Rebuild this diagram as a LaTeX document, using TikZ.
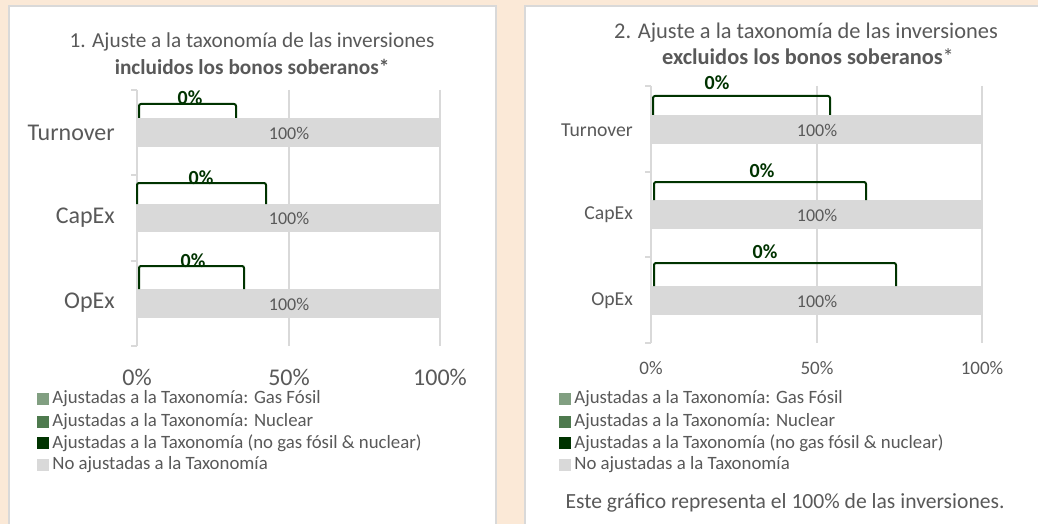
\documentclass[tikz,border=0pt]{standalone}
\usepackage{fontspec}
\setmainfont{Carlito}
\usetikzlibrary{positioning}
\definecolor{bgbeige}{HTML}{FBE9D7}
\definecolor{txtgray}{HTML}{595959}
\definecolor{gridgray}{HTML}{D9D9D9}
\definecolor{gasgreen}{HTML}{819F81}
\definecolor{nucgreen}{HTML}{4E7A4E}
\definecolor{taxgreen}{HTML}{003300}
\newcommand{\fsz}[1]{\fontsize{#1}{#1}\selectfont}

\begin{document}
\begin{tikzpicture}[x=1pt, y=-1pt,
  panel/.style={fill=white, draw=gridgray, line width=2pt},
  grid/.style={gridgray, line width=1.5pt},
  bar/.style={fill=gridgray, draw=none},
  brk/.style={taxgreen, line width=2pt, rounded corners=2pt},
  pct/.style={taxgreen, font=\fsz{20}\bfseries, anchor=base, inner sep=0pt},
  cat/.style={txtgray, anchor=east, inner sep=0pt},
  tick/.style={txtgray, inner sep=0pt},
  barlbl/.style={txtgray, font=\fsz{18}, inner sep=0pt},
  ttl/.style={txtgray, inner sep=0pt},
  leg/.style={txtgray, font=\fsz{18.8}, anchor=west, inner sep=0pt},
  sq/.style={minimum size=12pt, inner sep=0pt}]
  \fill[bgbeige] (0,0) rectangle (1038,524);
  \useasboundingbox (0,0) rectangle (1038,524);

  % panels
  \draw[panel] (9,6) rectangle (496,530);
  \draw[panel] (525,6) rectangle (1045,530);

  % left chart
  \node[ttl, font=\fsz{21.3}] (t1a) at (252,42) {1. Ajuste a la taxonomía de las inversiones};
  \node[ttl, font=\fsz{21.3}\bfseries] (t1b) at (252,67) {incluidos los bonos soberanos*};

  \draw[grid] (289,90) -- (289,346);
  \draw[grid] (440,90) -- (440,346);
  \draw[grid] (137,90) -- (137,346);
  \foreach \y in {90,175,261,346} \draw[grid] (131,\y) -- (137,\y);

  \fill[bar] (137,118) rectangle (440,147);
  \fill[bar] (137,204) rectangle (440,232);
  \fill[bar] (137,289) rectangle (440,318);
  \node[barlbl] (l1t) at (289,133) {100\%};
  \node[barlbl] (l1c) at (289,218) {100\%};
  \node[barlbl] (l1o) at (289,304) {100\%};

  \node[cat, font=\fsz{24}] (c1t) at (115,133) {Turnover};
  \node[cat, font=\fsz{24}] (c1c) at (115,218) {CapEx};
  \node[cat, font=\fsz{24}] (c1o) at (115,303) {OpEx};

  \draw[brk] (139,118) -- (139,104) -- (236,104) -- (236,118);
  \draw[brk] (137,204) -- (137,183) -- (266,183) -- (266,204);
  \draw[brk] (139,289) -- (139,266) -- (244,266) -- (244,289);
  \node[pct] (p1t) at (190,105) {0\%};
  \node[pct] (p1c) at (201,184) {0\%};
  \node[pct] (p1o) at (193,267) {0\%};

  \node[tick, font=\fsz{24}] (x1a) at (137,377) {0\%};
  \node[tick, font=\fsz{24}] (x1b) at (289,377) {50\%};
  \node[tick, font=\fsz{24}] (x1c) at (440,377) {100\%};

  \node[sq, fill=gasgreen] (s1a) at (43,399) {};
  \node[sq, fill=nucgreen] (s1b) at (43,422) {};
  \node[sq, fill=taxgreen] (s1c) at (43,443) {};
  \node[sq, fill=gridgray] (s1d) at (43,465) {};
  \node[leg, right=3pt of s1a] {Ajustadas a la Taxonomía: Gas Fósil};
  \node[leg, right=3pt of s1b] {Ajustadas a la Taxonomía: Nuclear};
  \node[leg, right=3pt of s1c] {Ajustadas a la Taxonomía (no gas fósil \& nuclear)};
  \node[leg, right=3pt of s1d] {No ajustadas a la Taxonomía};

  % right chart
  \node[ttl, font=\fsz{22.4}] (t2a) at (806,33) {2. Ajuste a la taxonomía de las inversiones};
  \node[ttl, font=\fsz{22.4}] (t2b) at (808,57) {\textbf{excluidos los bonos soberanos}*};

  \draw[grid] (817,86) -- (817,343);
  \draw[grid] (982,86) -- (982,343);
  \draw[grid] (651,86) -- (651,343);
  \foreach \y in {86,172,257,343} \draw[grid] (645,\y) -- (651,\y);

  \fill[bar] (651,115) rectangle (982,144);
  \fill[bar] (651,200) rectangle (982,229);
  \fill[bar] (651,286) rectangle (982,315);
  \node[barlbl] (l2t) at (817,130) {100\%};
  \node[barlbl] (l2c) at (817,215) {100\%};
  \node[barlbl] (l2o) at (817,301) {100\%};

  \node[cat, font=\fsz{19.7}] (c2t) at (633,130) {Turnover};
  \node[cat, font=\fsz{19.7}] (c2c) at (633,215) {CapEx};
  \node[cat, font=\fsz{19.7}] (c2o) at (633,301) {OpEx};

  \draw[brk] (653,115) -- (653,96) -- (830,96) -- (830,115);
  \draw[brk] (654,200) -- (654,182) -- (866,182) -- (866,200);
  \draw[brk] (654,286) -- (654,263) -- (896,263) -- (896,286);
  \node[pct] (p2t) at (717,90) {0\%};
  \node[pct] (p2c) at (762,177) {0\%};
  \node[pct] (p2o) at (765,258) {0\%};

  \node[tick, font=\fsz{19}] (x2a) at (651,368) {0\%};
  \node[tick, font=\fsz{19}] (x2b) at (817,368) {50\%};
  \node[tick, font=\fsz{19}] (x2c) at (982,368) {100\%};

  \node[sq, fill=gasgreen] (s2a) at (565,399) {};
  \node[sq, fill=nucgreen] (s2b) at (565,422) {};
  \node[sq, fill=taxgreen] (s2c) at (565,443) {};
  \node[sq, fill=gridgray] (s2d) at (565,465) {};
  \node[leg, right=3pt of s2a] {Ajustadas a la Taxonomía: Gas Fósil};
  \node[leg, right=3pt of s2b] {Ajustadas a la Taxonomía: Nuclear};
  \node[leg, right=3pt of s2c] {Ajustadas a la Taxonomía (no gas fósil \& nuclear)};
  \node[leg, right=3pt of s2d] {No ajustadas a la Taxonomía};

  \node[ttl, font=\fsz{21.6}] (foot) at (785,503) {Este gráfico representa el 100\% de las inversiones.};
\end{tikzpicture}
\end{document}
